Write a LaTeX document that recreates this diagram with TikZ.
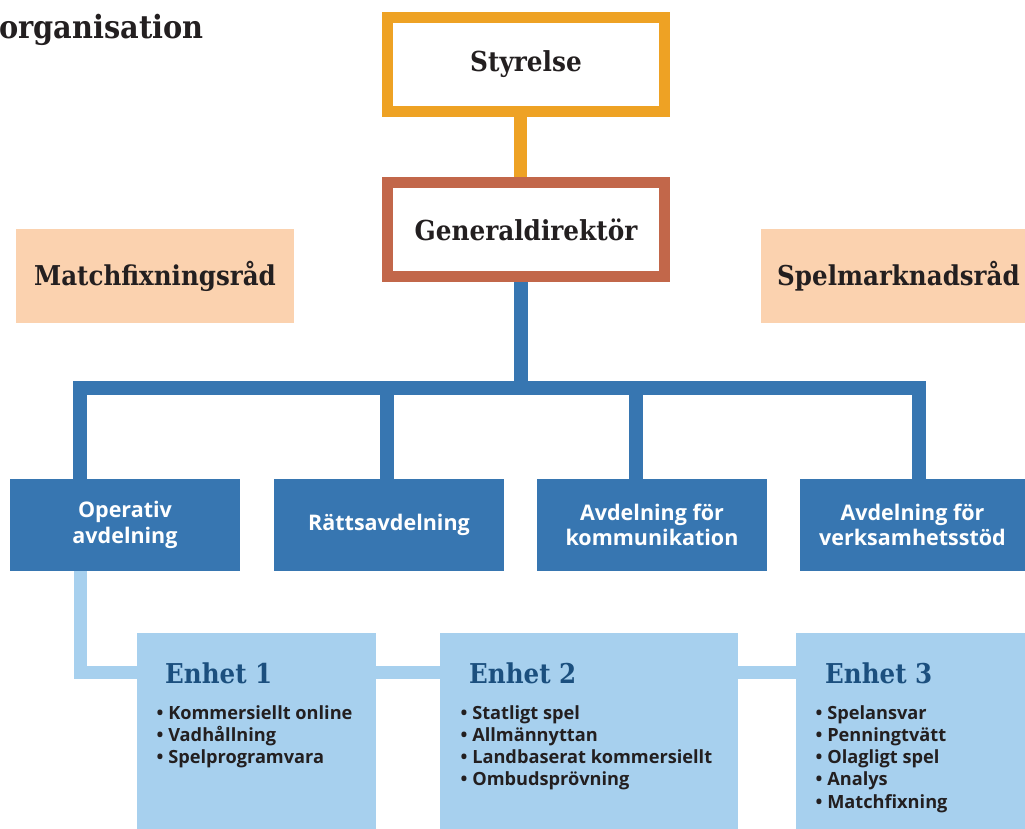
\documentclass[tikz,border=0pt]{standalone}
\usepackage{fontspec}
\setmainfont{Open Sans}
\newfontfamily\slab{DejaVu Serif Condensed Bold}
\usetikzlibrary{backgrounds,calc}
\definecolor{orng}{HTML}{EEA224}
\definecolor{brwn}{HTML}{C2674A}
\definecolor{dblue}{HTML}{3776B1}
\definecolor{lblue}{HTML}{A7D0EE}
\definecolor{peach}{HTML}{FBD2AF}
\definecolor{tblue}{HTML}{1B4F7E}
\definecolor{txt}{HTML}{231F20}
\begin{document}
\begin{tikzpicture}[x=1pt,y=-1pt,
  topbox/.style={draw, line width=11pt, fill=white, minimum width=277pt, minimum height=94pt,
    outer sep=0pt, inner sep=0pt, text=txt, font=\slab\fontsize{27.5}{31}\selectfont},
  dept/.style={fill=dblue, text=white, minimum width=230pt, minimum height=92pt, align=center,
    outer sep=0pt, inner sep=0pt, font=\bfseries\fontsize{21.5}{25.5}\selectfont},
  side/.style={fill=peach, minimum height=94pt, outer sep=0pt, inner sep=0pt},
  sidetext/.style={text=txt, inner sep=0pt, font=\slab\fontsize{27.3}{31}\selectfont},
  unit/.style={fill=lblue, minimum height=196pt, outer sep=0pt, inner sep=0pt},
  unittitle/.style={anchor=base west, inner sep=0pt, text=tblue, font=\slab\fontsize{27.3}{31}\selectfont},
  bul/.style={anchor=base west, inner sep=0pt, text=txt, font=\bfseries\fontsize{18.2}{22}\selectfont},
  orangeln/.style={draw=orng, line width=13pt},
  blueln/.style={draw=dblue, line width=14pt},
  lblueln/.style={draw=lblue, line width=13pt}
]
\useasboundingbox (0,0) rectangle (1025,829);

% title
\node[anchor=base west, inner sep=0pt, text=txt, font=\slab\fontsize{32}{36}\selectfont] (title) at (-1,39) {organisation};

% top boxes
\node[topbox, draw=orng] (sty) at (526,64.5) {Styrelse};
\node[topbox, draw=brwn] (gd) at (526,229.5) {Generaldirektör};

% side boxes
\node[side, minimum width=278pt] (msbox) at (155,276) {};
\node[sidetext] (ms) at (msbox.center) {Matchfixningsråd};
\node[side, minimum width=264pt] (spbox) at (893,276) {};
\node[sidetext] (sp) at (898.5,276) {Spelmarknadsråd};

% departments
\node[dept] (dep1) at (125,525) {Operativ\\avdelning};
\node[dept] (dep2) at (389,525) {Rättsavdelning};
\node[dept] (dep3) at (652,525) {Avdelning för\\kommunikation};
\node[dept, minimum width=225pt] (dep4) at (912.5,525) {Avdelning för\\verksamhetsstöd};

% units
\node[unit, minimum width=239pt] (en1) at (256.5,731) {};
\node[unit, minimum width=298pt] (en2) at (589,731) {};
\node[unit, minimum width=229pt] (en3) at (910.5,731) {};

\node[unittitle] (en1t) at (165,683) {Enhet 1};
\node[unittitle] (en2t) at (469,683) {Enhet 2};
\node[unittitle] (en3t) at (825,683) {Enhet 3};

\foreach \t [count=\i] in {Kommersiellt online, Vadhållning, Spelprogramvara}
  \node[bul] (en1b\i) at (156.5,{719+22.3*(\i-1)}) {• \t};
\foreach \t [count=\i] in {Statligt spel, Allmännyttan, Landbaserat kommersiellt, Ombudsprövning}
  \node[bul] (en2b\i) at (460.5,{719+22.3*(\i-1)}) {• \t};
\foreach \t [count=\i] in {Spelansvar, Penningtvätt, Olagligt spel, Analys, Matchfixning}
  \node[bul] (en3b\i) at (815.5,{719+22.3*(\i-1)}) {• \t};

% helper coordinates
\coordinate (trunk) at (520.5,0);
\coordinate (bar) at (0,388);
\coordinate (x1) at (80,0);
\coordinate (x2) at (386.5,0);
\coordinate (x3) at (635.5,0);
\coordinate (x4) at (918.5,0);
\coordinate (ly) at (0,672.5);

\begin{scope}[on background layer]
  \draw[orangeln] (sty.south -| trunk) -- (gd.north -| trunk);
  \draw[blueln] (gd.south -| trunk) -- (trunk |- bar);
  \draw[blueln] (dep1.north -| x1) -- (x1 |- bar) -- (x4 |- bar) -- (dep4.north -| x4);
  \draw[blueln] (dep2.north -| x2) -- (x2 |- bar);
  \draw[blueln] (dep3.north -| x3) -- (x3 |- bar);
  \draw[lblueln] (dep1.south -| x1) -- (x1 |- ly) -- (en1.west |- ly);
  \draw[lblueln] (en1.east |- ly) -- (en2.west |- ly);
  \draw[lblueln] (en2.east |- ly) -- (en3.west |- ly);
\end{scope}
\end{tikzpicture}
\end{document}
